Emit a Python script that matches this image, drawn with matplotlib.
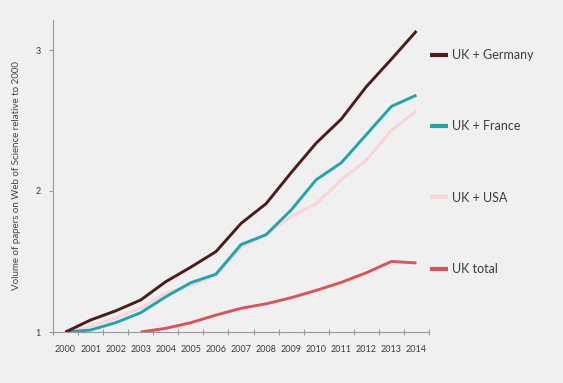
import matplotlib
matplotlib.use("Agg")
import matplotlib.pyplot as plt
import numpy as np

years = ["2000", "2001", "2002", "2003", "2004", "2005", "2006", "2007",
         "2008", "2009", "2010", "2011", "2012", "2013", "2014"]

uk_germany = [1.00, 1.085, 1.15, 1.227, 1.357, 1.46, 1.57, 1.77, 1.91, 2.13,
              2.34, 2.51, 2.74, 2.935, 3.135]
uk_france = [1.00, 1.014, 1.066, 1.137, 1.25, 1.35, 1.41, 1.62, 1.69, 1.865,
             2.08, 2.20, 2.40, 2.60, 2.68]
uk_usa = [1.00, 1.04, 1.10, 1.17, 1.275, 1.33, 1.40, 1.60, 1.69, 1.82,
          1.91, 2.08, 2.22, 2.43, 2.57]
uk_total_years = ["2003", "2004", "2005", "2006", "2007", "2008", "2009",
                  "2010", "2011", "2012", "2013", "2014"]
uk_total = [1.00, 1.026, 1.066, 1.12, 1.168, 1.20, 1.243, 1.295, 1.352,
            1.42, 1.50, 1.49]

series_labels = ["UK + Germany", "UK + France", "UK + USA", "UK total"]
colors = ["#4a1d1a", "#1fa5ae", "#f8d5d6", "#d9545b"]

plt.rcParams['font.family'] = ['Lato', 'DejaVu Sans']

bg = "#f0f0f0"
fig = plt.figure(figsize=(5.63, 3.83), dpi=100, facecolor=bg)
ax = fig.add_axes([53/563, 1 - 332/383, (429-53)/563, (332-20)/383])
ax.set_facecolor(bg)

x = np.arange(len(years))
xt = np.array([years.index(y) for y in uk_total_years])

lw = 2.1
l3, = ax.plot(x, uk_usa, color=colors[2], lw=lw, label=series_labels[2], solid_capstyle='butt')
l2, = ax.plot(x, uk_france, color=colors[1], lw=lw, label=series_labels[1], solid_capstyle='butt')
l1, = ax.plot(x, uk_germany, color=colors[0], lw=lw, label=series_labels[0], solid_capstyle='butt')
l4, = ax.plot(xt, uk_total, color=colors[3], lw=lw, label=series_labels[3], solid_capstyle='butt')

ax.set_xlim(-0.5, len(years) - 0.5)
ax.set_ylim(1, 1 + (332 - 20) / 141)

txtc = "#3c3c3c"
ax.set_xticks(x)
ax.set_xticklabels(years, fontsize=6.5, color=txtc)
ax.tick_params(axis='x', which='major', length=0, pad=9)
ax.set_xticks(np.arange(-0.5, len(years)), minor=True)
ax.tick_params(axis='x', which='minor', length=4, direction='inout', color="#999999", width=0.8)

ax.set_yticks([1, 2, 3])
ax.set_yticklabels(["1", "2", "3"], fontsize=6.5, color=txtc)
ax.tick_params(axis='y', length=3, direction='out', color="#999999", width=0.8, pad=6)

for s in ["top", "right"]:
    ax.spines[s].set_visible(False)
for s in ["left", "bottom"]:
    ax.spines[s].set_color("#999999")
    ax.spines[s].set_linewidth(0.8)

ax.set_ylabel("Volume of papers on Web of Science relative to 2000", fontsize=7,
              color="#444444", labelpad=10)

leg = fig.legend(handles=[l1, l2, l3, l4], labels=series_labels,
                 loc="upper left", bbox_to_anchor=(430/563, 1 - 49/383),
                 frameon=False, labelspacing=4.75, borderaxespad=0,
                 handlelength=1.45, handletextpad=0.35, borderpad=0,
                 prop={'size': 9})
for t in leg.get_texts():
    t.set_color(txtc)
for h in leg.legend_handles:
    h.set_linewidth(3)

fig.savefig("out.png", dpi=100, facecolor=bg)
